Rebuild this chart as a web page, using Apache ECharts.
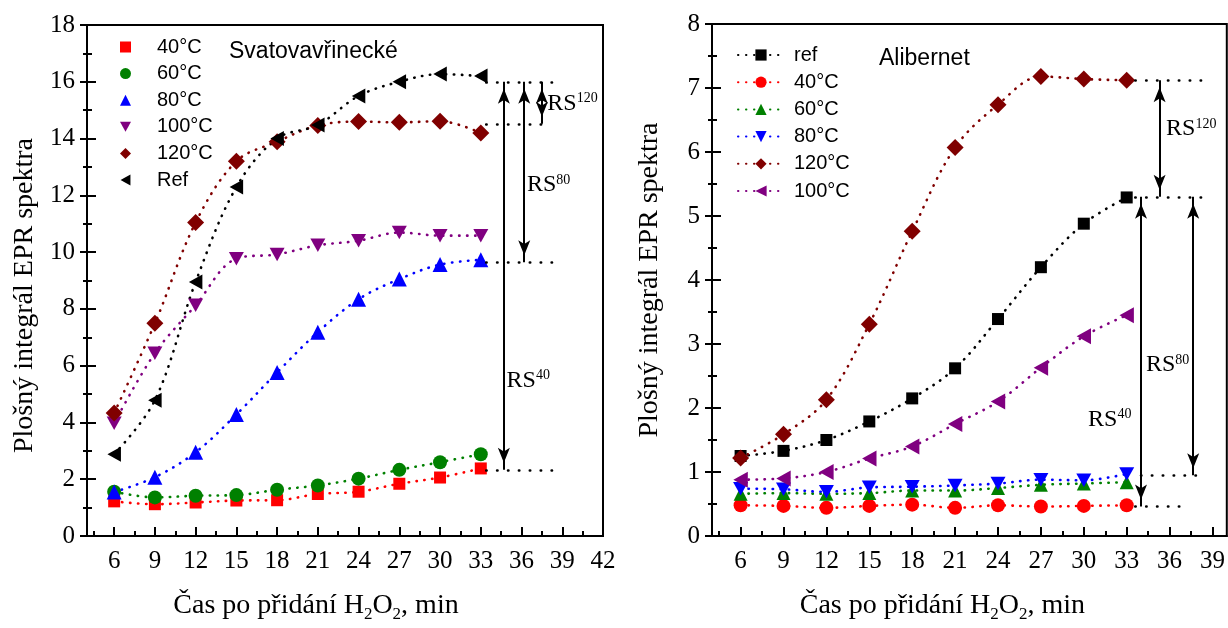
<!DOCTYPE html>
<html><head><meta charset="utf-8">
<script src="https://cdn.jsdelivr.net/npm/echarts@6/dist/echarts.min.js"></script>
<style>html,body{margin:0;padding:0;background:#fff}#c{width:1228px;height:628px}</style>
</head><body><div id="c"></div>
<script>
// ---------- data ----------
const times = [6, 9, 12, 15, 18, 21, 24, 27, 30, 33];

// Svatovavřinecké (left panel)
const svNames = ['40°C', '60°C', '80°C', '100°C', '120°C', 'Ref'];
const sv40  = [1.22, 1.12, 1.18, 1.25, 1.26, 1.48, 1.56, 1.84, 2.06, 2.38];
const sv60  = [1.56, 1.36, 1.42, 1.44, 1.63, 1.78, 2.02, 2.33, 2.60, 2.88];
const sv80  = [1.55, 2.07, 2.95, 4.28, 5.76, 7.18, 8.34, 9.05, 9.56, 9.73];
const sv100 = [3.97, 6.44, 8.13, 9.77, 9.92, 10.24, 10.40, 10.69, 10.58, 10.58];
const sv120 = [4.33, 7.49, 11.04, 13.20, 13.89, 14.46, 14.60, 14.57, 14.61, 14.20];
const svRef = [2.88, 4.78, 8.95, 12.29, 14.00, 14.48, 15.50, 16.00, 16.27, 16.20];

// Alibernet (right panel)
const alNames = ['ref', '40°C', '60°C', '80°C', '120°C', '100°C'];
const alRef = [1.25, 1.33, 1.50, 1.79, 2.15, 2.62, 3.39, 4.20, 4.88, 5.29];
const al40  = [0.48, 0.47, 0.44, 0.47, 0.49, 0.44, 0.48, 0.46, 0.47, 0.48];
const al60  = [0.66, 0.67, 0.66, 0.67, 0.71, 0.71, 0.75, 0.80, 0.82, 0.84];
const al80  = [0.74, 0.73, 0.69, 0.76, 0.77, 0.79, 0.82, 0.88, 0.87, 0.97];
const al120 = [1.22, 1.59, 2.13, 3.31, 4.76, 6.07, 6.74, 7.18, 7.14, 7.12];
const al100 = [0.88, 0.90, 1.00, 1.21, 1.40, 1.75, 2.10, 2.63, 3.12, 3.45];

// axis ticks
const svXTicks = [6, 9, 12, 15, 18, 21, 24, 27, 30, 33, 36, 39, 42];
const svXMinor = [4.5, 7.5, 10.5, 13.5, 16.5, 19.5, 22.5, 25.5, 28.5, 31.5, 34.5, 37.5, 40.5];
const alXTicks = [6, 9, 12, 15, 18, 21, 24, 27, 30, 33, 36, 39];
const alXMinor = [4.5, 7.5, 10.5, 13.5, 16.5, 19.5, 22.5, 25.5, 28.5, 31.5, 34.5, 37.5];

// annotations: plateau guides [xFrom, xTo, y], arrows [x, yTop, yBottom], labels [sup, x, y]
const svGuides = [[33.4, 38.5, 16.0], [33.4, 38.1, 14.52], [33.4, 38.5, 9.64], [33.4, 38.5, 2.33]];
const svArrows = [[34.7, 16.0, 2.33], [36.2, 16.0, 9.64], [37.5, 16.0, 14.52]];
const svLabels = [['40', 34.9, 5.47], ['80', 36.4, 12.37], ['120', 37.9, 15.23]];
const alGuides = [[33.6, 38.2, 7.12], [33.6, 38.2, 5.30], [34.0, 38.0, 0.95], [33.6, 37.4, 0.46]];
const alArrows = [[35.3, 7.12, 5.30], [34.0, 5.30, 0.46], [37.65, 5.30, 0.95]];
const alLabels = [['120', 35.75, 6.36], ['80', 34.35, 2.67], ['40', 30.3, 1.82]];

// ---------- styling ----------
const serif = 'Liberation Serif', sans = 'Liberation Sans';
const DOWN = 'path://M0,0L10,0L5,9Z';
const LEFT = 'path://M9,0L9,10L0,5Z';
const C = {red: '#ff0000', green: '#008000', blue: '#0000ff', purple: '#800080', maroon: '#800000', black: '#000000'};

function series(prefix, name, data, xi, yi, color, symbol, size) {
  return {
    type: 'line', name: prefix + '|' + name, xAxisIndex: xi, yAxisIndex: yi,
    data: times.map((t, i) => [t, data[i]]),
    symbol: symbol, symbolSize: size, symbolKeepAspect: true,
    smooth: 0.35, showSymbol: true,
    lineStyle: {color: color, width: 2.6, type: [0.4, 7.6], cap: 'round'},
    itemStyle: {color: color},
    emphasis: {disabled: true}
  };
}

function annotations(guides, arrows, labels) {
  const lines = [];
  guides.forEach(g => lines.push([
    {coord: [g[0], g[2]], symbol: 'none', lineStyle: {type: [0.4, 10.5], width: 2.6, cap: 'round', color: '#000'}},
    {coord: [g[1], g[2]], symbol: 'none'}
  ]));
  arrows.forEach(a => lines.push([
    {coord: [a[0], a[1]], symbol: 'arrow', symbolSize: [9, 15], symbolOffset: [0, 7], lineStyle: {type: 'solid', width: 2, color: '#000'}},
    {coord: [a[0], a[2]], symbol: 'arrow', symbolSize: [9, 15], symbolOffset: [0, 7]}
  ]));
  return {
    markLine: {
      silent: true, animation: false,
      symbol: ['arrow', 'arrow'],
      symbolSize: 14,
      label: {show: false},
      emphasis: {disabled: true},
      lineStyle: {color: '#000'},
      data: lines
    },
    markPoint: {
      silent: true, animation: false,
      symbol: 'circle', symbolSize: 0,
      itemStyle: {color: 'rgba(0,0,0,0)'},
      label: {
        show: true, position: 'right', distance: 0, color: '#000',
        rich: {
          a: {fontFamily: serif, fontSize: 24, color: '#000', lineHeight: 24, verticalAlign: 'middle'},
          b: {fontFamily: serif, fontSize: 14, color: '#000', lineHeight: 14, verticalAlign: 'top'}
        }
      },
      data: labels.map(l => ({coord: [l[1], l[2]], label: {formatter: '{a|RS}{b|' + l[0] + '}'}}))
    }
  };
}

const xName = '{m|Čas po přidání H}{s|2}{m|O}{s|2}{m|, min}';
const xNameRich = {
  m: {fontFamily: serif, fontSize: 28, color: '#000', lineHeight: 34, verticalAlign: 'middle'},
  s: {fontFamily: serif, fontSize: 17, color: '#000', lineHeight: 17, verticalAlign: 'bottom'}
};
const axisLineStyle = {show: true, onZero: false, lineStyle: {color: '#000', width: 2}};
const tickLine = {color: '#000', width: 2};
const labelFont = {fontFamily: serif, fontSize: 25, color: '#000'};

function xMain(grid, max, ticks, padRight) {
  return {
    type: 'value', gridIndex: grid, position: 'bottom', min: 4, max: max,
    axisLine: axisLineStyle,
    axisTick: {show: true, customValues: ticks, inside: true, length: 9, lineStyle: tickLine},
    axisLabel: Object.assign({customValues: ticks, margin: 13}, labelFont),
    splitLine: {show: false},
    name: xName, nameLocation: 'middle', nameGap: 53,
    nameTextStyle: {rich: xNameRich, padding: [0, padRight, 0, 0]}
  };
}
function xMinor(grid, max, ticks) {
  return {
    type: 'value', gridIndex: grid, position: 'bottom', min: 4, max: max,
    axisLine: {show: false},
    axisTick: {show: true, customValues: ticks, inside: true, length: 5, lineStyle: tickLine},
    axisLabel: {show: false}, splitLine: {show: false}
  };
}
function yMain(grid, max, interval, padRight) {
  return {
    type: 'value', gridIndex: grid, position: 'left', min: 0, max: max, interval: interval,
    axisLine: axisLineStyle,
    axisTick: {show: true, inside: false, length: 7, lineStyle: tickLine},
    minorTick: {show: true, splitNumber: 2, length: 4, lineStyle: tickLine},
    axisLabel: Object.assign({margin: 12}, labelFont),
    splitLine: {show: false}, minorSplitLine: {show: false},
    name: 'Plošný integrál EPR spektra', nameLocation: 'middle', nameGap: 48,
    nameTextStyle: {fontFamily: serif, fontSize: 28, color: '#000', padding: [0, padRight, 0, 0]}
  };
}
function yInner(grid, max, interval) {
  return {
    type: 'value', gridIndex: grid, position: 'left', min: 0, max: max, interval: interval,
    axisLine: {show: false},
    axisTick: {show: true, inside: true, length: 9, lineStyle: tickLine},
    minorTick: {show: true, splitNumber: 2, length: 5, lineStyle: tickLine},
    axisLabel: {show: false}, splitLine: {show: false}, minorSplitLine: {show: false}
  };
}

const svSeries = [
  series('S', svNames[0], sv40, 0, 0, C.red, 'rect', 12),
  series('S', svNames[1], sv60, 0, 0, C.green, 'circle', 14),
  series('S', svNames[2], sv80, 0, 0, C.blue, 'triangle', 15),
  series('S', svNames[3], sv100, 0, 0, C.purple, DOWN, 15),
  series('S', svNames[4], sv120, 0, 0, C.maroon, 'diamond', 17),
  Object.assign(series('S', svNames[5], svRef, 0, 0, C.black, LEFT, 15), annotations(svGuides, svArrows, svLabels))
];
const alSeries = [
  Object.assign(series('A', alNames[0], alRef, 2, 2, C.black, 'rect', 12), annotations(alGuides, alArrows, alLabels)),
  series('A', alNames[1], al40, 2, 2, C.red, 'circle', 14),
  series('A', alNames[2], al60, 2, 2, C.green, 'triangle', 14),
  series('A', alNames[3], al80, 2, 2, C.blue, DOWN, 15),
  series('A', alNames[4], al120, 2, 2, C.maroon, 'diamond', 17),
  series('A', alNames[5], al100, 2, 2, C.purple, LEFT, 16)
];
const svIcons = ['rect', 'circle', 'triangle', DOWN, 'diamond', LEFT];

const option = {
  animation: false,
  backgroundColor: '#fff',
  title: [
    {text: 'Svatovavřinecké', left: 229, top: 40, padding: 0,
     textStyle: {fontFamily: sans, fontSize: 23, fontWeight: 'normal', color: '#000'}},
    {text: 'Alibernet', left: 879, top: 47, padding: 0,
     textStyle: {fontFamily: sans, fontSize: 23, fontWeight: 'normal', color: '#000'}}
  ],
  legend: [
    {
      data: svNames.map((n, i) => ({name: 'S|' + n, icon: svIcons[i]})),
      orient: 'vertical', left: 120, top: 37, padding: 0,
      itemWidth: 11, itemHeight: 11, itemGap: 6.6, symbolKeepAspect: true,
      selectedMode: false,
      formatter: n => n.split('|')[1],
      textStyle: {fontFamily: sans, fontSize: 20, lineHeight: 20, color: '#000', padding: [0, 0, 0, 21]}
    },
    {
      data: alNames.map(n => 'A|' + n),
      orient: 'vertical', left: 737, top: 45, padding: 0,
      itemWidth: 46, itemHeight: 14, itemGap: 7.2,
      selectedMode: false,
      formatter: n => n.split('|')[1],
      textStyle: {fontFamily: sans, fontSize: 20, lineHeight: 20, color: '#000', padding: [0, 0, 0, 5]}
    }
  ],
  grid: [
    {left: 87, top: 25, width: 516, height: 517, show: true, borderColor: '#000', borderWidth: 2, backgroundColor: 'transparent'},
    {left: 712, top: 24, width: 515, height: 517, show: true, borderColor: '#000', borderWidth: 2, backgroundColor: 'transparent'}
  ],
  xAxis: [xMain(0, 42, svXTicks, 58), xMinor(0, 42, svXMinor), xMain(1, 40, alXTicks, 54), xMinor(1, 40, alXMinor)],
  yAxis: [yMain(0, 18, 2, 30), yInner(0, 18, 2), yMain(1, 8, 1, 0), yInner(1, 8, 1)],
  series: svSeries.concat(alSeries)
};

const chart = echarts.init(document.getElementById('c'));
chart.setOption(option);
</script>
</body></html>
